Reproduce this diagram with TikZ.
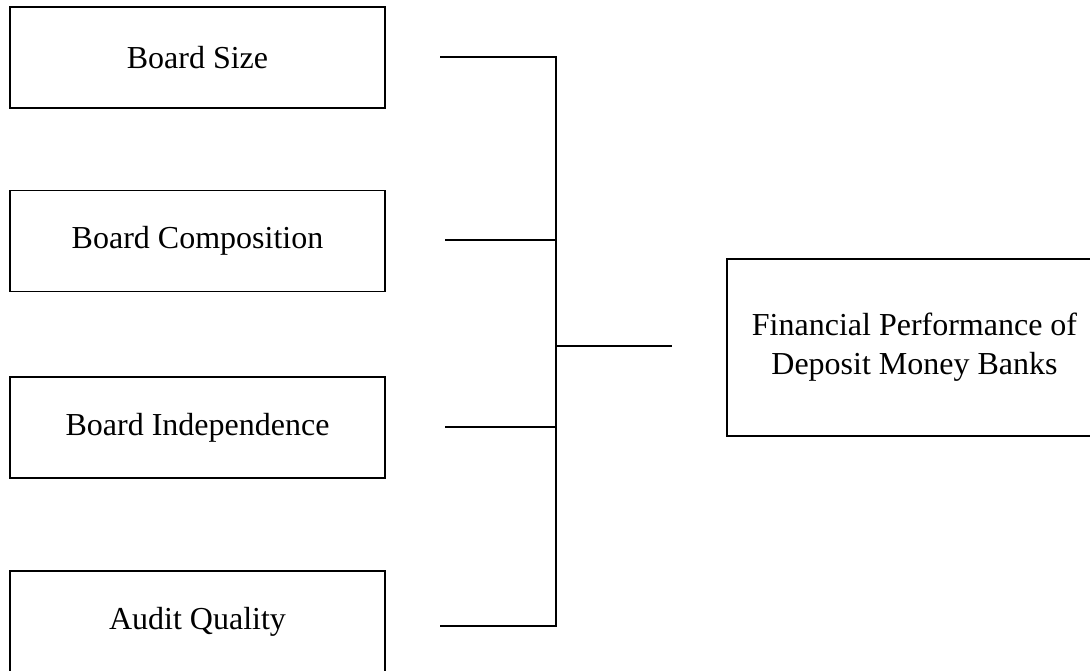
\documentclass[tikz,border=0pt]{standalone}
\usepackage{fontspec}
\setmainfont{Liberation Serif}
\begin{document}
\begin{tikzpicture}[x=1pt,y=-1pt,
  box/.style={draw, line width=1.4pt, minimum width=375pt, minimum height=101pt, inner sep=0pt, align=center, font=\fontsize{32}{39}\selectfont},
  conn/.style={line width=1.3pt}]
\useasboundingbox (0,0) rectangle (1090,670);
\clip (0,0) rectangle (1090,670);
\node[box] (bs) at (197.5,57.5) {Board Size};
\node[box] (bc) at (197.5,241) {Board Composition};
\node[box] (bi) at (197.5,427.5) {Board Independence};
\node[box] (aq) at (197.5,621.5) {Audit Quality};
\node[box, minimum height=177pt] (fp) at (914.5,347.5) {Financial Performance of\\Deposit Money Banks};
\coordinate (s1) at (440,57);
\coordinate (s2) at (445,240);
\coordinate (s3) at (445,427);
\coordinate (s4) at (440,626);
\coordinate (j1) at (556,57);
\coordinate (j2) at (556,240);
\coordinate (j3) at (556,427);
\coordinate (j4) at (556,626);
\coordinate (jm) at (556,346);
\coordinate (e) at (672,346);
\draw[conn] (s1) -- (j1) -- (j4) -- (s4);
\draw[conn] (s2) -- (j2);
\draw[conn] (s3) -- (j3);
\draw[conn] (jm) -- (e);
\end{tikzpicture}
\end{document}
